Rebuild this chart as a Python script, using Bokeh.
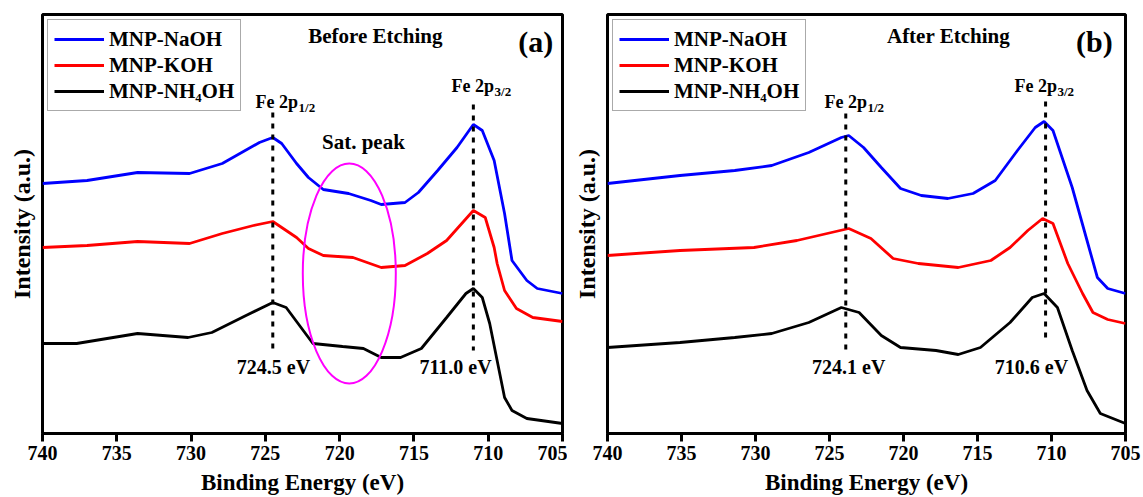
from bokeh.plotting import figure
from bokeh.models import Range1d, FixedTicker, Label
from bokeh.layouts import row
from bokeh.embed import file_html
from bokeh.resources import INLINE

FONT = "Liberation Serif"

# ---------------- data ----------------
tick_values = [740, 735, 730, 725, 720, 715, 710, 705]
series_names = ["MNP-NaOH", "MNP-KOH", "MNP-NH\u2084OH"]
series_colors = ["#0000FF", "#FF0000", "#000000"]

# Panel (a): before etching
a_naoh_e = [740.0, 737.0, 733.6, 730.1, 727.9, 725.4, 724.5, 723.9, 722.9, 722.1, 721.1, 719.4, 717.9,
            717.2, 715.6, 714.7, 713.4, 712.1, 711.0, 710.4, 709.6, 708.9, 708.4, 707.4, 706.7, 705.0]
a_naoh_i = [250, 253, 261, 260, 270, 291, 296, 290, 270, 256, 244, 240, 233,
            229, 231, 241, 263, 286, 309, 303, 273, 220, 173, 153, 145, 140]

a_koh_e = [740.0, 737.0, 733.6, 730.1, 727.9, 725.8, 724.5, 722.9, 722.1, 721.1, 719.1, 717.2,
           715.6, 714.1, 712.8, 711.0, 710.2, 709.6, 709.4, 708.9, 708.1, 707.0, 705.0]
a_koh_i = [186, 188, 192, 190, 200, 208, 212, 196, 185, 178, 176, 166,
           168, 180, 193, 223, 216, 186, 170, 143, 125, 116, 112]

a_nh4_e = [740.0, 737.7, 733.6, 730.2, 728.6, 726.3, 724.5, 723.6, 722.8, 721.8, 719.8, 718.4, 717.2,
           715.9, 714.5, 712.8, 711.5, 711.0, 710.4, 709.9, 709.4, 708.9, 708.4, 707.4, 705.0]
a_nh4_i = [90, 90, 100, 96, 101, 118, 131, 126, 110, 90, 87, 85, 76,
           76, 85, 116, 140, 145, 136, 110, 73, 36, 23, 15, 10]

# Panel (b): after etching
b_naoh_e = [740.0, 735.1, 731.4, 728.9, 726.4, 724.2, 723.7, 722.7, 721.5, 720.2, 718.8, 717.0,
            715.3, 713.8, 712.3, 711.1, 710.5, 709.9, 708.6, 707.6, 706.9, 706.2, 705.0]
b_naoh_i = [250, 258, 263, 268, 281, 296, 298, 286, 266, 245, 238, 235,
            240, 253, 283, 306, 312, 303, 246, 193, 156, 145, 140]

b_koh_e = [740.0, 735.1, 730.1, 727.2, 723.7, 722.2, 720.7, 719.0, 716.3, 714.1, 712.8, 711.6,
           710.6, 709.9, 708.9, 707.9, 707.2, 706.2, 705.0]
b_koh_i = [178, 183, 186, 193, 205, 195, 175, 170, 166, 173, 186, 203,
           215, 210, 170, 140, 121, 114, 110]

b_nh4_e = [740.0, 735.1, 731.4, 728.9, 726.4, 724.2, 723.0, 721.5, 720.2, 717.8, 716.3, 714.8,
           712.8, 711.3, 710.5, 709.6, 708.6, 707.6, 706.7, 705.0]
b_nh4_i = [86, 91, 96, 100, 111, 126, 121, 98, 86, 83, 79, 86,
           111, 136, 140, 126, 83, 43, 20, 10]

a_peak_labels = ["724.5 eV", "711.0 eV"]
b_peak_labels = ["724.1 eV", "710.6 eV"]

# annotation placement (data coordinates)
a_cfg = dict(
    title="Before Etching", title_x=717.6, tag="(a)", tag_x=706.8,
    fe12_x=725.66, fe32_x=712.47,
    dots=[(724.5, 321, 83), (711.0, 329, 83)],
    peak_pos=[(724.45, 67), (712.2, 67)], peak_labels=a_peak_labels,
    border_left=42, frame_w=520, border_right=5,
)
b_cfg = dict(
    title="After Etching", title_x=716.96, tag="(b)", tag_x=707.1,
    fe12_x=725.34, fe32_x=712.5,
    dots=[(723.9, 320, 83), (710.4, 332, 96)],
    peak_pos=[(723.7, 67), (711.35, 67)], peak_labels=b_peak_labels,
    border_left=40, frame_w=518, border_right=18,
)

sat_ellipse = dict(x=719.35, y=160, w=6.26, h=220)
sat_text = dict(x=718.4, y=292)


def lab(p, x, y, text, size, align="left", baseline="alphabetic", xo=0, yo=0):
    p.add_layout(Label(x=x, y=y, text=text, text_font=FONT, text_font_style="bold",
                       text_font_size=f"{size}px", text_align=align, text_baseline=baseline,
                       x_offset=xo, y_offset=yo, text_color="black"))


def make_panel(cfg, series, sat=False):
    p = figure(frame_width=cfg["frame_w"], frame_height=419,
               min_border_left=cfg["border_left"], min_border_right=cfg["border_right"],
               min_border_top=14, min_border_bottom=64,
               x_range=Range1d(740, 705), y_range=Range1d(0, 419),
               output_backend="svg", toolbar_location=None,
               background_fill_color="white", border_fill_color="white")
    p.grid.visible = False
    p.outline_line_color = "black"
    p.outline_line_width = 3
    p.outline_line_alpha = 1

    xa = p.xaxis[0]
    xa.ticker = FixedTicker(ticks=tick_values)
    xa.axis_line_color = None
    xa.major_tick_line_width = 3
    xa.major_tick_line_color = "black"
    xa.major_tick_out = 8
    xa.major_tick_in = 0
    xa.minor_tick_out = 0
    xa.minor_tick_in = 0
    xa.major_label_text_font = FONT
    xa.major_label_text_font_style = "bold"
    xa.major_label_text_font_size = "20px"
    xa.major_label_text_color = "black"
    xa.major_label_standoff = 4
    xa.axis_label = "Binding Energy (eV)"
    xa.axis_label_text_font = FONT
    xa.axis_label_text_font_style = "bold"
    xa.axis_label_text_font_size = "23px"
    xa.axis_label_text_color = "black"
    xa.axis_label_standoff = 7

    ya = p.yaxis[0]
    ya.ticker = FixedTicker(ticks=[])
    ya.axis_line_color = None
    ya.major_tick_out = 0
    ya.major_tick_in = 0
    ya.minor_tick_out = 0
    ya.minor_tick_in = 0
    ya.major_label_text_font_size = "0px"
    ya.major_label_standoff = 0
    ya.axis_label = "Intensity (a.u.)"
    ya.axis_label_text_font = FONT
    ya.axis_label_text_font_style = "bold"
    ya.axis_label_text_font_size = "24px"
    ya.axis_label_text_color = "black"
    ya.axis_label_standoff = 8

    for (e, i), name, col in zip(series, series_names, series_colors):
        p.line(e, i, line_color=col, line_width=2.8, legend_label=name)

    lg = p.legend[0]
    lg.location = "top_left"
    lg.margin = 5
    lg.padding = 6
    lg.spacing = 0
    lg.label_height = 26
    lg.glyph_height = 26
    lg.glyph_width = 50
    lg.label_standoff = 5
    lg.label_text_font = FONT
    lg.label_text_font_style = "bold"
    lg.label_text_font_size = "21px"
    lg.label_text_color = "black"
    lg.border_line_color = "#555555"
    lg.border_line_width = 1.5
    lg.background_fill_color = "white"
    lg.background_fill_alpha = 1

    # dotted peak markers
    for (xd, y0, y1) in cfg["dots"]:
        p.segment(x0=[xd], y0=[y0], x1=[xd], y1=[y1], line_color="black",
                  line_width=3, line_dash="5 6")

    lab(p, cfg["title_x"], 398, cfg["title"], 21, align="center")
    lab(p, cfg["tag_x"], 392, cfg["tag"], 30, align="center")
    lab(p, cfg["fe12_x"], 332, "Fe 2p", 18)
    lab(p, cfg["fe12_x"], 332, "1/2", 13, xo=43, yo=-6)
    lab(p, cfg["fe32_x"], 348, "Fe 2p", 18)
    lab(p, cfg["fe32_x"], 348, "3/2", 13, xo=43, yo=-6)
    for (px, py), t in zip(cfg["peak_pos"], cfg["peak_labels"]):
        lab(p, px, py, t, 20, align="center")

    if sat:
        p.ellipse(x=[sat_ellipse["x"]], y=[sat_ellipse["y"]], width=[sat_ellipse["w"]],
                  height=[sat_ellipse["h"]], fill_color=None, line_color="#FF00FF", line_width=2)
        lab(p, sat_text["x"], sat_text["y"], "Sat. peak", 21, align="center")

    return p


pa = make_panel(a_cfg, [(a_naoh_e, a_naoh_i), (a_koh_e, a_koh_i), (a_nh4_e, a_nh4_i)], sat=True)
pb = make_panel(b_cfg, [(b_naoh_e, b_naoh_i), (b_koh_e, b_koh_i), (b_nh4_e, b_nh4_i)])

layout = row(pa, pb)
open("out.html", "w").write(file_html(layout, INLINE))
